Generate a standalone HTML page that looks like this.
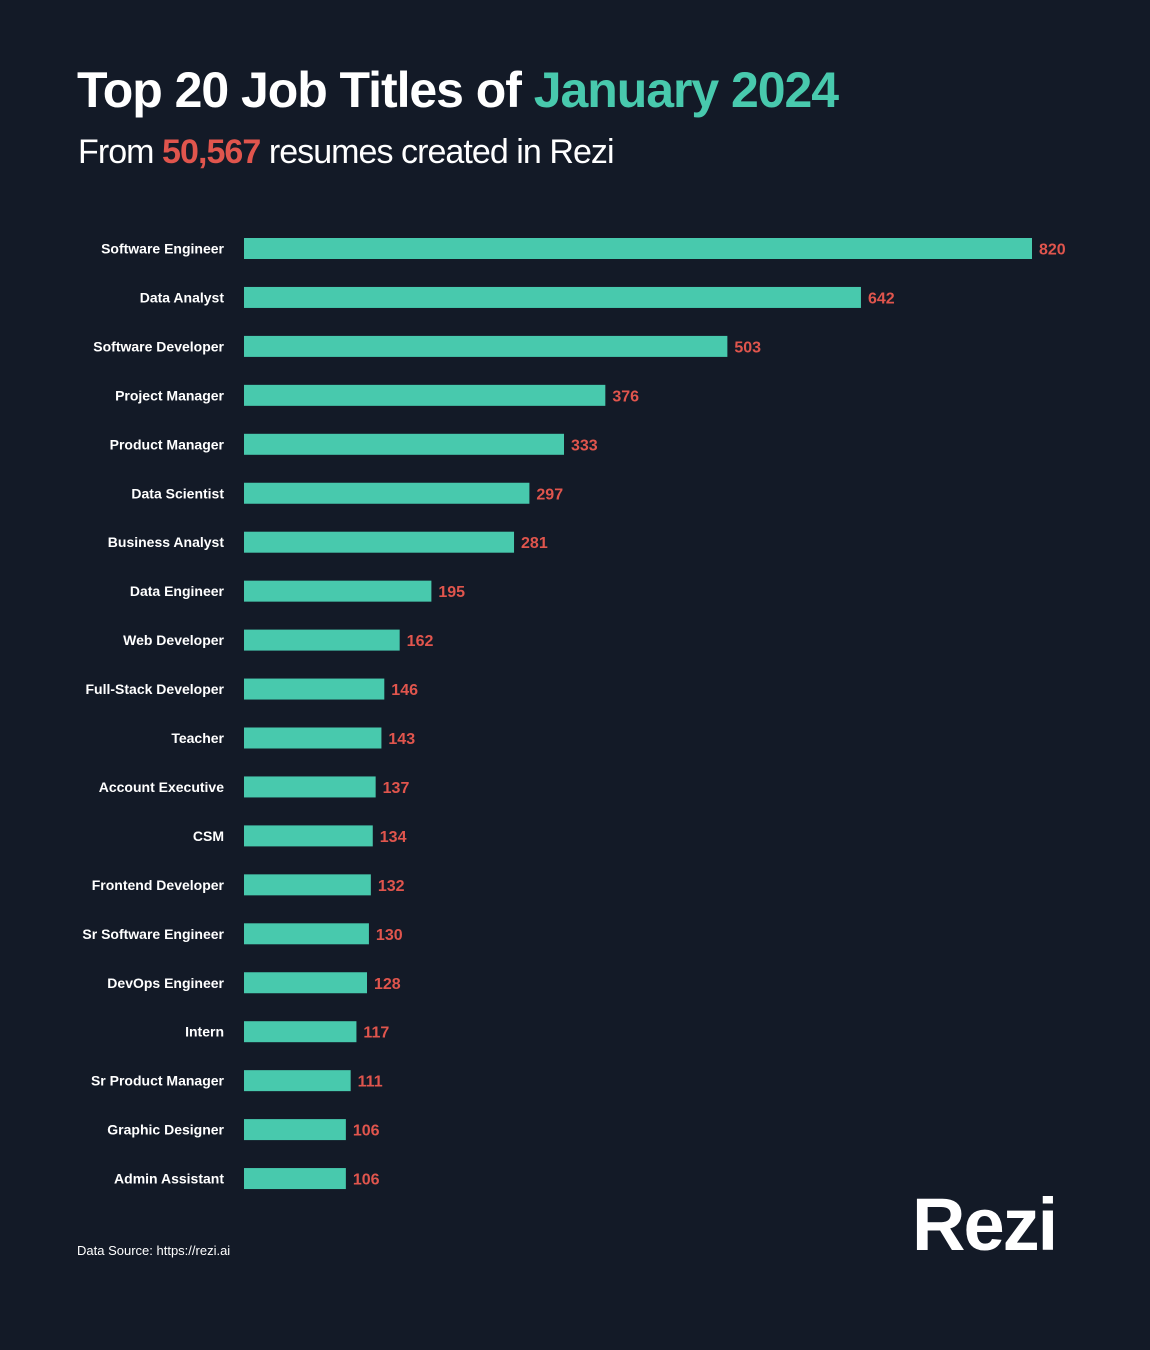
<!DOCTYPE html>
<html><head><meta charset="utf-8"><style>
html,body{margin:0;padding:0;background:#131a27;}
body{width:1150px;height:1350px;position:relative;overflow:hidden;font-family:"Liberation Sans",sans-serif;}
.t{position:absolute;white-space:nowrap;}
</style></head><body>
<div class="t" style="left:77px;top:61px;font-size:50px;font-weight:bold;color:#fff;letter-spacing:-1.05px;">Top 20 Job Titles of <span style="color:#48c9ad">January 2024</span></div>
<div class="t" style="left:78px;top:133px;font-size:34px;color:#fff;letter-spacing:-0.95px;">From <span style="color:#e0554d;font-weight:bold">50,567</span> resumes created in Rezi</div>
<svg id="chart" width="1150" height="1350" style="position:absolute;left:0;top:0"></svg>
<div class="t" style="left:77px;top:1243px;font-size:13px;color:#fff;">Data Source: https://rezi.ai</div>
<div class="t" style="left:912px;top:1182px;font-size:74px;font-weight:bold;color:#fff;letter-spacing:-2px;">Rezi</div>
<script>
const categories=["Software Engineer","Data Analyst","Software Developer","Project Manager","Product Manager","Data Scientist","Business Analyst","Data Engineer","Web Developer","Full-Stack Developer","Teacher","Account Executive","CSM","Frontend Developer","Sr Software Engineer","DevOps Engineer","Intern","Sr Product Manager","Graphic Designer","Admin Assistant"];
const values=[820,642,503,376,333,297,281,195,162,146,143,137,134,132,130,128,117,111,106,106];
const NS="http://www.w3.org/2000/svg";
const svg=document.getElementById('chart');
const x0=244,scale=788/820,y0=248.5,step=48.95,bh=21;
const xs=v=>v*scale;
const ys=i=>y0+i*step;
categories.forEach((c,i)=>{
  const y=ys(i);
  const r=document.createElementNS(NS,'rect');
  r.setAttribute('x',x0);r.setAttribute('y',y-bh/2);r.setAttribute('width',xs(values[i]));r.setAttribute('height',bh);r.setAttribute('fill','#48c9ad');
  
  
  svg.appendChild(r);
  const l=document.createElementNS(NS,'text');
  l.setAttribute('x',224);l.setAttribute('y',y+5);l.setAttribute('text-anchor','end');l.setAttribute('fill','#fff');l.setAttribute('font-size','14');l.setAttribute('font-weight','bold');l.setAttribute('font-family','Liberation Sans, sans-serif');
  l.textContent=c;
  
  
  svg.appendChild(l);
  const v=document.createElementNS(NS,'text');
  v.setAttribute('x',x0+xs(values[i])+7);v.setAttribute('y',y+6);v.setAttribute('fill','#e0554d');v.setAttribute('font-size','16');v.setAttribute('font-weight','bold');v.setAttribute('font-family','Liberation Sans, sans-serif');
  v.textContent=values[i];
  
  
  svg.appendChild(v);
});
</script>
</body></html>
